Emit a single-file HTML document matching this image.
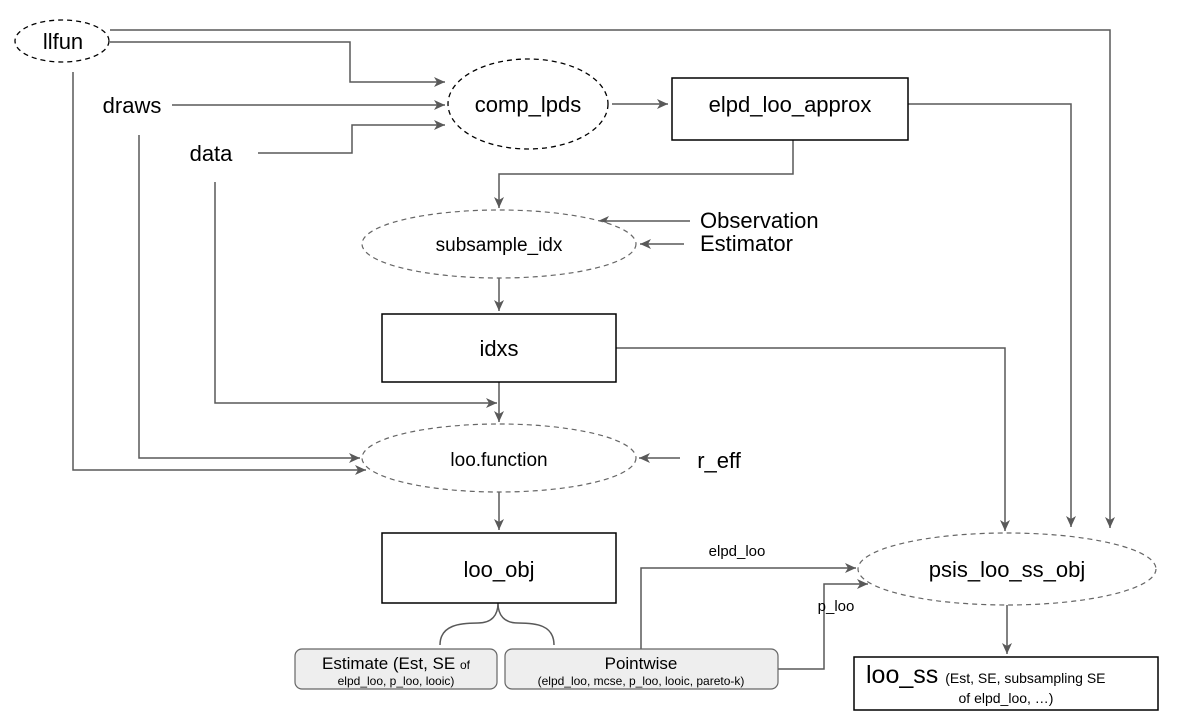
<!DOCTYPE html>
<html><head><style>body{margin:0;background:#fff}svg{display:block}text{font-family:"Liberation Sans",sans-serif;fill:#000}</style></head>
<body>
<svg width="1180" height="722" viewBox="0 0 1180 722" xmlns="http://www.w3.org/2000/svg">
<defs><marker id="a" markerWidth="12" markerHeight="10" refX="11" refY="5" orient="auto" markerUnits="userSpaceOnUse"><path d="M0,0 L11,5 L0,10 L3,5 Z" fill="#595959"/></marker></defs>
<g fill="none" stroke="#595959" stroke-width="1.5">
<path d="M110,30 H1110 V528" marker-end="url(#a)"/>
<path d="M110,42 H350 V82 H445" marker-end="url(#a)"/>
<path d="M172,105 H445" marker-end="url(#a)"/>
<path d="M258,153 H352 V125 H445" marker-end="url(#a)"/>
<path d="M612,104 H668" marker-end="url(#a)"/>
<path d="M908,104 H1071 V527" marker-end="url(#a)"/>
<path d="M793,140 V174 H499 V208" marker-end="url(#a)"/>
<path d="M690,221 H598" marker-end="url(#a)"/>
<path d="M684,244 H640" marker-end="url(#a)"/>
<path d="M499,278 V311" marker-end="url(#a)"/>
<path d="M616,348 H1005 V531" marker-end="url(#a)"/>
<path d="M499,382 V422" marker-end="url(#a)"/>
<path d="M215,182 V403 H497" marker-end="url(#a)"/>
<path d="M139,135 V458 H360" marker-end="url(#a)"/>
<path d="M73,72 V470 H366" marker-end="url(#a)"/>
<path d="M680,458 H639" marker-end="url(#a)"/>
<path d="M499,492 V530" marker-end="url(#a)"/>
<path d="M641,649 V568 H856" marker-end="url(#a)"/>
<path d="M778,669 H824 V584 H868" marker-end="url(#a)"/>
<path d="M1007,605 V654" marker-end="url(#a)"/>
<path d="M440,645 C440,625 460,623 478,623 C492,623 498,615 498,603 C498,615 504,623 518,623 C536,623 554,625 554,645"/>
</g>
<ellipse cx="62" cy="41" rx="47" ry="21" fill="#fff" stroke="#000" stroke-width="1.3" stroke-dasharray="5,4"/>
<ellipse cx="528" cy="104" rx="80" ry="45" fill="#fff" stroke="#000" stroke-width="1.3" stroke-dasharray="5,4"/>
<ellipse cx="499" cy="244" rx="137" ry="34" fill="#fff" stroke="#666" stroke-width="1.2" stroke-dasharray="5,4"/>
<ellipse cx="499" cy="458" rx="137" ry="34" fill="#fff" stroke="#666" stroke-width="1.2" stroke-dasharray="5,4"/>
<ellipse cx="1007" cy="569" rx="149" ry="36" fill="#fff" stroke="#666" stroke-width="1.2" stroke-dasharray="5,4"/>
<g fill="#fff" stroke="#000" stroke-width="1.5">
<rect x="672" y="78" width="236" height="62"/>
<rect x="382" y="314" width="234" height="68"/>
<rect x="382" y="533" width="234" height="70"/>
<rect x="854" y="657" width="304" height="53"/>
</g>
<rect x="295" y="649" width="202" height="40" rx="7" fill="#eeeeee" stroke="#666" stroke-width="1.2"/>
<rect x="505" y="649" width="273" height="40" rx="7" fill="#eeeeee" stroke="#666" stroke-width="1.2"/>
<g font-size="22" text-anchor="middle">
<text x="63" y="49">llfun</text>
<text x="132" y="113">draws</text>
<text x="211" y="161">data</text>
<text x="528" y="112">comp_lpds</text>
<text x="790" y="112">elpd_loo_approx</text>
<text x="499" y="356">idxs</text>
<text x="499" y="577">loo_obj</text>
<text x="1007" y="577">psis_loo_ss_obj</text>
<text x="719" y="468">r_eff</text>
</g>
<g font-size="19" text-anchor="middle">
<text x="499" y="251">subsample_idx</text>
<text x="499" y="466">loo.function</text>
</g>
<g font-size="22"><text x="700" y="228">Observation</text><text x="700" y="251">Estimator</text></g>
<text x="737" y="556" font-size="15" text-anchor="middle">elpd_loo</text>
<text x="836" y="611" font-size="15" text-anchor="middle">p_loo</text>
<text x="396" y="669" font-size="17" text-anchor="middle">Estimate (Est, SE <tspan font-size="12">of</tspan></text>
<text x="396" y="685" font-size="12" text-anchor="middle">elpd_loo, p_loo, looic)</text>
<text x="641" y="669" font-size="17" text-anchor="middle">Pointwise</text>
<text x="641" y="685" font-size="12" text-anchor="middle">(elpd_loo, mcse, p_loo, looic, pareto-k)</text>
<text x="866" y="683" font-size="25">loo_ss <tspan font-size="14">(Est, SE, subsampling SE</tspan></text>
<text x="1006" y="703" font-size="14" text-anchor="middle">of elpd_loo, …)</text>
</svg>
</body></html>
